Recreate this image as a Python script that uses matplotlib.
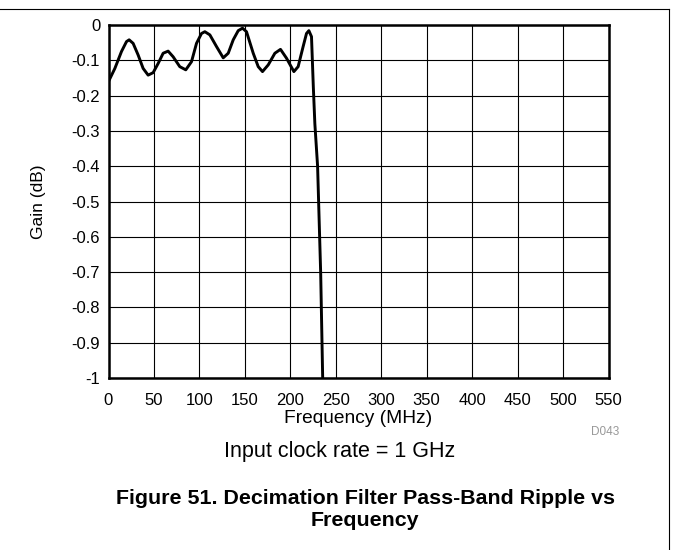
import matplotlib
matplotlib.use("Agg")
import matplotlib.pyplot as plt
from matplotlib.lines import Line2D

# values
freq = [0.8, 7.0, 14.3, 19.8, 22.7, 27.1, 32.6, 38.1, 43.6, 49.1, 54.6, 60.1,
        65.6, 71.1, 78.4, 85.0, 91.3, 96.8, 102.3, 106.0, 111.5, 118.8, 126.2,
        131.7, 137.2, 142.7, 147.4, 151.8, 159.2, 164.7, 169.4, 175.7, 183.0,
        189.2, 195.8, 203.9, 208.6, 214.1, 217.8, 220.4, 223.3, 225.3, 227.0,
        230.0, 233.4, 235.6, 236.5]
gain = [-0.156, -0.123, -0.075, -0.047, -0.042, -0.052, -0.085, -0.123, -0.142,
        -0.135, -0.109, -0.080, -0.074, -0.090, -0.118, -0.127, -0.104, -0.052,
        -0.024, -0.019, -0.028, -0.061, -0.093, -0.080, -0.042, -0.016, -0.009,
        -0.019, -0.080, -0.118, -0.132, -0.113, -0.080, -0.069, -0.094, -0.132,
        -0.118, -0.061, -0.024, -0.016, -0.033, -0.175, -0.28, -0.40, -0.703,
        -1.0, -1.1]

xticks = list(range(0, 551, 50))
yticks = [0, -0.1, -0.2, -0.3, -0.4, -0.5, -0.6, -0.7, -0.8, -0.9, -1]
ylabels = ["0", "-0.1", "-0.2", "-0.3", "-0.4", "-0.5", "-0.6", "-0.7", "-0.8", "-0.9", "-1"]

plt.rcParams['font.family'] = ['Liberation Sans', 'DejaVu Sans']
narrow = ['Liberation Sans Narrow', 'Liberation Sans', 'DejaVu Sans']

fig = plt.figure(figsize=(6.73, 5.5), dpi=100)
ax = fig.add_axes([108.5/673, 1-378/550, 500/673, 353/550])

ax.plot(freq, gain, color='black', lw=2.1, solid_joinstyle='round', clip_on=True)
ax.set_xlim(0, 550)
ax.set_ylim(-1, 0)
ax.set_xticks(xticks)
ax.set_yticks(yticks)
ax.set_yticklabels(ylabels)
ax.grid(True, color='black', lw=0.8)
ax.set_axisbelow(True)
ax.tick_params(length=0, labelsize=12)
ax.tick_params(axis='x', pad=11)
ax.tick_params(axis='y', pad=6)
for s in ax.spines.values():
    s.set_linewidth(1.8)

ax.set_ylabel("Gain (dB)", fontsize=12.5)
ax.yaxis.set_label_coords(-(108.5-46)/500, 0.5)
ax.set_xlabel("Frequency (MHz)", fontsize=13.8, labelpad=1)

fig.text(605/673, 1-432/550, "D043", fontsize=8.5, color='#999999',
         ha='center', va='center')
fig.text(340/673, 1-452/550, "Input clock rate = 1 GHz", fontsize=15.5,
         ha='center', va='center')
fig.text(365/673, 1-498/550, "Figure 51. Decimation Filter Pass-Band Ripple vs",
         fontsize=15.4, fontweight='bold', ha='center', va='center', family=narrow)
fig.text(365/673, 1-521/550, "Frequency", fontsize=15.4, fontweight='bold',
         ha='center', va='center', family=narrow)

# page frame
fig.add_artist(Line2D([0, 669/673], [1-9/550, 1-9/550], color='black', lw=0.8,
                      transform=fig.transFigure))
fig.add_artist(Line2D([669/673, 669/673], [1-9/550, 0], color='black', lw=0.8,
                      transform=fig.transFigure))

fig.savefig("out.png", dpi=100)
